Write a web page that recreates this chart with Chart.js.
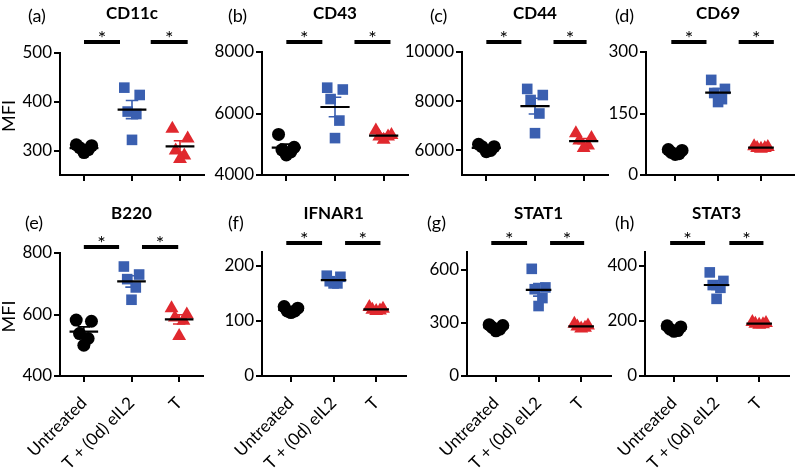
<!DOCTYPE html>
<html>
<head>
<meta charset="utf-8">
<script src="https://cdn.jsdelivr.net/npm/chart.js@4.4.0/dist/chart.umd.min.js"></script>
<style>
  html, body { margin: 0; padding: 0; background: #fff; }
  #wrap { position: relative; width: 800px; height: 468px; overflow: hidden; }
  #wrap canvas { position: absolute; }
</style>
</head>
<body>
<div id="wrap"></div>
<script>
// categories and panels
const groups = ['Untreated', 'T + (0d) eIL2', 'T'];
const markers = ['CD11c', 'CD43', 'CD44', 'CD69', 'B220', 'IFNAR1', 'STAT1', 'STAT3'];
const letters = ['(a)', '(b)', '(c)', '(d)', '(e)', '(f)', '(g)', '(h)'];

// MFI values, 5 mice per group
const untreated = [
  [312, 296, 302, 306, 310],
  [5320, 4900, 4820, 4750, 4650],
  [6250, 6150, 6000, 5950, 6150],
  [62, 60, 55, 52, 50],
  [582, 578, 538, 522, 500],
  [126, 123, 118, 115, 118],
  [290, 285, 275, 265, 255],
  [182, 178, 170, 162, 165]
];
const eil2 = [
  [414, 429, 380, 375, 322],
  [6840, 6780, 6470, 5770, 5200],
  [8250, 8050, 8500, 7500, 6700],
  [232, 210, 200, 185, 178],
  [756, 730, 715, 688, 648],
  [182, 180, 172, 168, 168],
  [605, 500, 490, 440, 395],
  [376, 345, 330, 320, 280]
];
const tOnly = [
  [345, 325, 300, 290, 283],
  [5450, 5300, 5250, 5150, 5250],
  [6700, 6500, 6400, 6200, 6100],
  [70, 68, 66, 64, 66],
  [620, 600, 590, 580, 530],
  [125, 122, 120, 118, 119],
  [295, 285, 280, 272, 268],
  [196, 192, 188, 186, 190]
];

// y axes
const yMin = [250, 4000, 5000, 0, 400, 0, 0, 0];
const yMax = [500, 8000, 10000, 300, 800, 225, 700, 450];
const yTicks = [
  [300, 400, 500], [4000, 6000, 8000], [6000, 8000, 10000], [0, 150, 300],
  [400, 600, 800], [0, 100, 200], [0, 300, 600], [0, 200, 400]
];

// layout (pixels) and significance bar spans (x units)
const layout = [
  { ax: 60,  ae: 208, top: 53,  bot: 175, row: 0, lx: 28,  xr: [-0.5, 2.5],  sig: [[0, 0.75], [1.39, 2.16]], sy: 42 },
  { ax: 262, ae: 412, top: 52,  bot: 175, row: 0, lx: 228, xr: [-0.5, 2.5],  sig: [[0, 0.74], [1.4, 2.14]], sy: 42 },
  { ax: 462, ae: 612, top: 52,  bot: 175, row: 0, lx: 430, xr: [-0.5, 2.5],  sig: [[0, 0.72], [1.38, 2.06]], sy: 42 },
  { ax: 646, ae: 798, top: 52,  bot: 175, row: 0, lx: 615, xr: [-0.68, 2.77], sig: [[-0.09, 0.73], [1.48, 2.3]], sy: 42 },
  { ax: 60,  ae: 207, top: 253, bot: 376, row: 1, lx: 25,  xr: [-0.5, 2.5],  sig: [[0, 0.74], [1.22, 1.98]], sy: 247 },
  { ax: 262, ae: 410, top: 252, bot: 376, row: 1, lx: 228, xr: [-0.68, 2.7], sig: [[-0.11, 0.73], [1.27, 2.1]], sy: 243 },
  { ax: 467, ae: 615, top: 252, bot: 376, row: 1, lx: 427, xr: [-0.68, 2.7], sig: [[-0.11, 0.73], [1.27, 2.07]], sy: 243 },
  { ax: 645, ae: 793, top: 252, bot: 376, row: 1, lx: 615, xr: [-0.68, 2.7], sig: [[-0.09, 0.73], [1.3, 2.1]], sy: 243 }
];
const rowTop = [0, 195];
const rowH = [195, 273];

const colors = ['#000000', '#3a5fb0', '#e0282e'];
const shapes = ['circle', 'rect', 'triangle'];
const sizes = [6.5, 7.5, 8];
const jitterByRank = [-0.16, 0.16, -0.09, 0.09, 0];
const FONT = 'Lato, "Open Sans", sans-serif';

function mean(a) { return a.reduce((s, v) => s + v, 0) / a.length; }
function sem(a) {
  const m = mean(a);
  const sd = Math.sqrt(a.reduce((s, v) => s + (v - m) * (v - m), 0) / (a.length - 1));
  return sd / Math.sqrt(a.length);
}

function buildPanel(i) {
  const L = layout[i];
  const top0 = rowTop[L.row];
  const left = L.ax - 64;
  const width = L.ae - left + 4;
  const height = rowH[L.row];

  const cv = document.createElement('canvas');
  cv.width = width; cv.height = height;
  cv.style.left = left + 'px'; cv.style.top = top0 + 'px';
  cv.style.width = width + 'px'; cv.style.height = height + 'px';
  document.getElementById('wrap').appendChild(cv);

  const sets = [untreated[i], eil2[i], tOnly[i]];
  const datasets = [];
  const meanLine = [];

  sets.forEach((vals, g) => {
    const order = vals.map((v, k) => k).sort((p, q) => vals[q] - vals[p]);
    const jit = [];
    order.forEach((k, r) => { jit[k] = jitterByRank[r]; });
    datasets.push({
      data: vals.map((v, k) => ({ x: g + jit[k], y: v })),
      pointStyle: shapes[g], pointRadius: sizes[g],
      backgroundColor: colors[g], borderColor: colors[g], borderWidth: 0,
      order: 2
    });
    const m = mean(vals), s = sem(vals);
    meanLine.push({ x: g - 0.3, y: m }, { x: g + 0.3, y: m }, { x: g + 0.4, y: null });
    datasets.push({
      data: [
        { x: g, y: m - s }, { x: g, y: m + s }, { x: g, y: null },
        { x: g - 0.13, y: m + s }, { x: g + 0.13, y: m + s }, { x: g, y: null },
        { x: g - 0.13, y: m - s }, { x: g + 0.13, y: m - s }
      ],
      showLine: true, spanGaps: false, pointRadius: 0,
      borderColor: colors[g], borderWidth: 1.6, order: 1
    });
  });
  datasets.push({
    data: meanLine, showLine: true, spanGaps: false, pointRadius: 0,
    borderColor: '#000', borderWidth: 2.2, order: 0
  });

  const decor = {
    id: 'decor',
    afterDraw(chart) {
      const ctx = chart.ctx;
      const xs = chart.scales.x;
      ctx.save();
      ctx.fillStyle = '#000';
      // panel title
      ctx.font = 'bold 17px ' + FONT;
      ctx.textAlign = 'center';
      ctx.textBaseline = 'alphabetic';
      ctx.fillText(markers[i], xs.getPixelForValue(1), L.row ? 219 - top0 : 19);
      // panel letter
      ctx.font = '18px ' + FONT;
      ctx.textAlign = 'left';
      ctx.textBaseline = 'middle';
      ctx.fillText(letters[i], L.lx - left, (L.row ? 223 : 16.5) - top0);
      // y title
      if (L.ax === 60) {
        ctx.save();
        ctx.font = '18px ' + FONT;
        ctx.textAlign = 'center';
        ctx.textBaseline = 'middle';
        ctx.translate(9 - left, (L.top + L.bot) / 2 + 2 - top0);
        ctx.rotate(-Math.PI / 2);
        ctx.fillText('MFI', 0, 0);
        ctx.restore();
      }
      // significance bars
      ctx.lineWidth = 4;
      ctx.strokeStyle = '#000';
      ctx.font = '20px ' + FONT;
      ctx.textAlign = 'center';
      ctx.textBaseline = 'alphabetic';
      L.sig.forEach(([a, b]) => {
        const x1 = xs.getPixelForValue(a), x2 = xs.getPixelForValue(b);
        const y = L.sy - top0;
        ctx.beginPath(); ctx.moveTo(x1, y); ctx.lineTo(x2, y); ctx.stroke();
        ctx.fillText('*', (x1 + x2) / 2, y + 3);
      });
      ctx.restore();
    }
  };

  const axisBase = {
    grid: { drawOnChartArea: false, color: '#000', lineWidth: 2, tickLength: 6 },
    border: { color: '#000', width: 2 }
  };

  new Chart(cv, {
    type: 'scatter',
    data: { datasets },
    plugins: [decor],
    options: {
      responsive: false,
      animation: false,
      events: [],
      layout: { padding: { top: L.top - top0, right: width - (L.ae - left), left: 0, bottom: 0 } },
      plugins: { legend: { display: false }, tooltip: { enabled: false } },
      scales: {
        x: Object.assign({}, axisBase, {
          type: 'linear', min: L.xr[0], max: L.xr[1],
          afterBuildTicks: s => { s.ticks = groups.map((gname, k) => ({ value: k })); },
          afterFit: s => { s.height = height - (L.bot - top0); },
          ticks: {
            callback: v => (L.row ? groups[v] : ''),
            minRotation: 45, maxRotation: 45, padding: 11,
            color: '#000', font: { family: FONT, size: 17 }
          }
        }),
        y: Object.assign({}, axisBase, {
          min: yMin[i], max: yMax[i],
          afterBuildTicks: s => { s.ticks = yTicks[i].map(v => ({ value: v })); },
          afterFit: s => { s.width = 64; },
          ticks: { callback: v => String(v), padding: 2, color: '#000', font: { family: FONT, size: 17 } }
        })
      }
    }
  });
}

markers.forEach((m, i) => buildPanel(i));
</script>
</body>
</html>
